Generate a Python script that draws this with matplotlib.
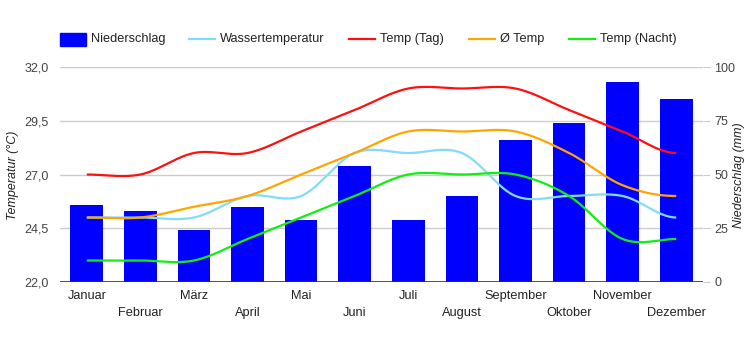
import numpy as np
import matplotlib
matplotlib.use("Agg")
import matplotlib.pyplot as plt
from matplotlib.lines import Line2D
from matplotlib.patches import Rectangle

plt.rcParams['font.family'] = ['Liberation Sans', 'DejaVu Sans']

months = ["Januar", "Februar", "März", "April", "Mai", "Juni", "Juli",
          "August", "September", "Oktober", "November", "Dezember"]
niederschlag = [36, 33, 24, 35, 29, 54, 29, 40, 66, 74, 93, 85]
wassertemp = [25, 25, 25, 26, 26, 28, 28, 28, 26, 26, 26, 25]
temp_tag = [27, 27, 28, 28, 29, 30, 31, 31, 31, 30, 29, 28]
temp_avg = [25, 25, 25.5, 26, 27, 28, 29, 29, 29, 28, 26.5, 26]
temp_nacht = [23, 23, 23, 24, 25, 26, 27, 27, 27, 26, 24, 24]

left_ticks = [22.0, 24.5, 27.0, 29.5, 32.0]
right_ticks = [0, 25, 50, 75, 100]


def smooth(y, n=30):
    y = np.asarray(y, dtype=float)
    N = len(y)
    m = np.zeros(N)
    for i in range(1, N - 1):
        m[i] = (y[i + 1] - y[i - 1]) / 2.0
    xs, ys = [], []
    for i in range(N - 1):
        t = np.linspace(0, 1, n, endpoint=(i == N - 2))
        h00 = 2 * t**3 - 3 * t**2 + 1
        h10 = t**3 - 2 * t**2 + t
        h01 = -2 * t**3 + 3 * t**2
        h11 = t**3 - t**2
        xs.append(i + t)
        ys.append(h00 * y[i] + h10 * m[i] + h01 * y[i + 1] + h11 * m[i + 1])
    return np.concatenate(xs), np.concatenate(ys)


W, H = 750, 350
fig = plt.figure(figsize=(7.5, 3.5), dpi=100)
L, R, T, B = 60, 703, 67, 282
ax2 = fig.add_axes([L / W, 1 - B / H, (R - L) / W, (B - T) / H])
ax = ax2.twinx()
ax.set_zorder(ax2.get_zorder() + 1)
ax.patch.set_visible(False)

x = np.arange(len(months))
ax2.bar(x, niederschlag, width=0.61, color="#0000ff", zorder=2)
ax2.set_ylim(0, 100)
ax2.set_xlim(-0.5, len(months) - 0.5)
ax2.set_yticks(right_ticks)
ax2.grid(axis='y', color="#cccccc", linewidth=1, zorder=0)
ax2.set_axisbelow(True)
ax2.yaxis.tick_right()
ax2.tick_params(axis='y', length=5, color="#cccccc", labelsize=9, labelcolor="#444444", pad=3)
ax2.set_yticklabels([str(v) for v in right_ticks])

ax.yaxis.tick_left()
ax.set_ylim(22, 32)
ax.set_yticks(left_ticks)
ax.set_yticklabels([f"{v:.1f}".replace('.', ',') for v in left_ticks])
ax.tick_params(axis='y', length=0, labelsize=9, labelcolor="#444444", pad=8)

fig.text(13 / W, 1 - 175 / H, "Temperatur (°C)", rotation=90, ha='center', va='center',
         fontsize=9, style='italic', color="#222222")
fig.text(739 / W, 1 - 175 / H, "Niederschlag (mm)", rotation=90, ha='center', va='center',
         fontsize=9, style='italic', color="#222222")

series = [
    (wassertemp, "#80dcfa"),
    (temp_avg, "#ffa500"),
    (temp_nacht, "#11ee11"),
    (temp_tag, "#ff1010"),
]
for vals, col in series:
    sx, sy = smooth(vals)
    ax.plot(sx, sy, color=col, linewidth=1.6, solid_capstyle='butt', zorder=3)

for a in (ax, ax2):
    for s in a.spines.values():
        s.set_visible(False)
ax2.axhline(0, color="#333333", linewidth=1.2, zorder=4)

ax2.set_xticks(x)
ax2.set_xticklabels([])
ax2.tick_params(axis='x', length=0)
ax.set_xticks([])
for i, m in enumerate(months):
    yoff = 296 if i % 2 == 0 else 313
    px = L + (i + 0.5) * (R - L) / 12
    fig.text(px / W, 1 - yoff / H, m, ha='center', va='center', fontsize=9.2, color="#222222")

# legend
ly = 39
fig.patches.append(Rectangle((60 / W, 1 - 46 / H), 26 / W, 13 / H, transform=fig.transFigure,
                             color="#0000ff", figure=fig))
fig.text(91 / W, 1 - ly / H, "Niederschlag", ha='left', va='center', fontsize=9.2, color="#222222")
leg = [(189, 220, "Wassertemperatur", "#80dcfa"),
       (349, 380, "Temp (Tag)", "#ff1010"),
       (469, 500, "Ø Temp", "#ffa500"),
       (569, 600, "Temp (Nacht)", "#11ee11")]
for x0, tx, label, col in leg:
    fig.lines.append(Line2D([x0 / W, (x0 + 26) / W], [1 - ly / H, 1 - ly / H], transform=fig.transFigure,
                            color=col, linewidth=1.6, figure=fig))
    fig.text(tx / W, 1 - ly / H, label, ha='left', va='center', fontsize=9.2, color="#222222")

fig.savefig("out.png", dpi=100)
